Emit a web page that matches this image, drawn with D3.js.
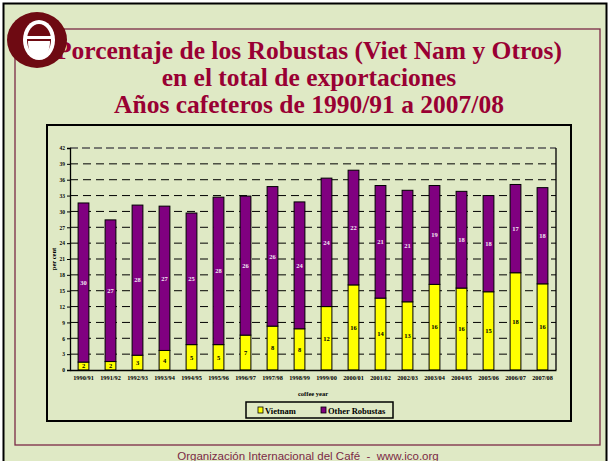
<!DOCTYPE html>
<html>
<head>
<meta charset="utf-8">
<script src="https://cdn.jsdelivr.net/npm/d3@7"></script>
<style>
  body { margin: 0; background: #fff; }
  svg { display: block; }
</style>
</head>
<body>
<script>
// coffee years on the x axis
var years = ["1990/91", "1991/92", "1992/93", "1993/94", "1994/95", "1995/96",
  "1996/97", "1997/98", "1998/99", "1999/00", "2000/01", "2001/02", "2002/03",
  "2003/04", "2004/05", "2005/06", "2006/07", "2007/08"];
// share of total exports, per cent
var vietnam = [1.5, 1.6, 2.8, 3.7, 4.8, 4.8, 6.6, 8.3, 7.8, 12.0, 16.1, 13.6, 12.9, 16.2, 15.5, 14.8, 18.4, 16.3];
var otherRobustas = [30.1, 26.8, 28.4, 27.3, 24.9, 27.9, 26.3, 26.4, 24.0, 24.3, 21.7, 21.3, 21.1, 18.7, 18.3, 18.2, 16.7, 18.2];
var yTicks = d3.range(0, 43, 3);
var seriesNames = ["Vietnam", "Other Robustas"];
var seriesColors = ["#ffff00", "#800080"];
var titleLines = ["Porcentaje de los Robustas (Viet Nam y Otros)",
  "en el total de exportaciones",
  "Años cafeteros de 1990/91 a 2007/08"];

var W = 610, H = 461;
var bg = "#dfe9c5", maroon = "#990033";
var serif = "Liberation Serif, Times New Roman, serif";
var svg = d3.select("body").append("svg").attr("width", W).attr("height", H);

// slide background and frames
svg.append("rect").attr("x", 3.5).attr("y", 3.5).attr("width", 603).attr("height", 470)
  .attr("fill", bg).attr("stroke", "#000").attr("stroke-width", 2);
svg.append("rect").attr("x", 15).attr("y", 29).attr("width", 585).attr("height", 416)
  .attr("fill", "none").attr("stroke", "#7b2a45").attr("stroke-width", 1.3);

// title
svg.append("g").selectAll("text").data(titleLines).join("text")
  .attr("x", 309).attr("y", function (d, i) { return 59 + i * 27; })
  .attr("text-anchor", "middle")
  .attr("font-family", serif)
  .attr("font-weight", "bold").attr("font-size", 25.5).attr("fill", maroon)
  .text(function (d) { return d; });

// ICO logo, drawn over the first letter
var logo = svg.append("g").attr("transform", "translate(37,40)");
logo.append("ellipse").attr("rx", 30).attr("ry", 28).attr("fill", "#6e0a12");
logo.append("ellipse").attr("cx", 2).attr("cy", 0).attr("rx", 16).attr("ry", 20).attr("fill", "#fff");
logo.append("ellipse").attr("cx", 2).attr("cy", 0).attr("rx", 12).attr("ry", 16).attr("fill", "#6e0a12");
logo.append("rect").attr("x", -13).attr("y", -4).attr("width", 30).attr("height", 3).attr("fill", "#fff");
logo.append("path").attr("d", "M-9,1 L13,1 Q13,17 2,17 Q-9,17 -9,1 Z").attr("fill", "#fff");

// chart box
svg.append("rect").attr("x", 47).attr("y", 125).attr("width", 524).attr("height", 296)
  .attr("fill", bg).attr("stroke", "#000").attr("stroke-width", 2);

var pL = 70, pR = 556, pT = 148, pB = 370;
var x = d3.scaleBand().domain(years).range([pL, pR]).paddingInner(0.6).paddingOuter(0.3);
var y = d3.scaleLinear().domain([0, 42]).range([pB, pT]);

// gridlines
svg.append("g").selectAll("line").data(yTicks.filter(function (t) { return t > 0 && t < 42; })).join("line")
  .attr("x1", pL).attr("x2", pR)
  .attr("y1", function (d) { return y(d); }).attr("y2", function (d) { return y(d); })
  .attr("stroke", "#000").attr("stroke-width", 1).attr("stroke-dasharray", "8,5");
svg.append("line").attr("x1", pL).attr("x2", pR).attr("y1", y(42)).attr("y2", y(42))
  .attr("stroke", "#555").attr("stroke-width", 1.5).attr("stroke-dasharray", "8,4");
svg.append("line").attr("x1", pR).attr("x2", pR).attr("y1", pT).attr("y2", pB)
  .attr("stroke", "#000").attr("stroke-width", 1.3);

// stacked bars
var rows = years.map(function (yr, i) { return { year: yr, v: vietnam[i], o: otherRobustas[i] }; });
var bars = svg.append("g");
bars.selectAll("rect.v").data(rows).join("rect").attr("class", "v")
  .attr("x", function (d) { return x(d.year); }).attr("width", x.bandwidth())
  .attr("y", function (d) { return y(d.v); })
  .attr("height", function (d) { return y(0) - y(d.v); })
  .attr("fill", seriesColors[0]).attr("stroke", "#000").attr("stroke-width", 1);
bars.selectAll("rect.o").data(rows).join("rect").attr("class", "o")
  .attr("x", function (d) { return x(d.year); }).attr("width", x.bandwidth())
  .attr("y", function (d) { return y(d.v + d.o); })
  .attr("height", function (d) { return y(d.v) - y(d.v + d.o); })
  .attr("fill", seriesColors[1]).attr("stroke", "#000").attr("stroke-width", 1);

// value labels
var lab = svg.append("g").attr("font-family", serif).attr("font-weight", "bold")
  .attr("font-size", 6.5).attr("text-anchor", "middle");
lab.selectAll("text.v").data(rows).join("text").attr("class", "v")
  .attr("x", function (d) { return x(d.year) + x.bandwidth() / 2; })
  .attr("y", function (d) { return y(d.v / 2) + 2.3; })
  .attr("fill", "#000").text(function (d) { return Math.round(d.v); });
lab.selectAll("text.o").data(rows).join("text").attr("class", "o")
  .attr("x", function (d) { return x(d.year) + x.bandwidth() / 2; })
  .attr("y", function (d) { return y(d.v + d.o / 2) + 2.3; })
  .attr("fill", "#f4e8f4").text(function (d) { return Math.round(d.o); });

// axes
var yAxis = svg.append("g").attr("transform", "translate(" + pL + ",0)")
  .call(d3.axisLeft(y).tickValues(yTicks).tickSize(3).tickPadding(2));
yAxis.select(".domain").attr("stroke", "#000").attr("stroke-width", 1.3);
yAxis.selectAll("text").attr("font-family", serif).attr("font-weight", "bold").attr("font-size", 5.5);

var xAxis = svg.append("g").attr("transform", "translate(0," + pB + ")")
  .call(d3.axisBottom(x).tickSize(0).tickPadding(6));
xAxis.select(".domain").attr("stroke", "#000").attr("stroke-width", 1.5);
xAxis.selectAll("text").attr("font-family", serif).attr("font-weight", "bold").attr("font-size", 6.3);

svg.append("text").attr("transform", "translate(56,259) rotate(-90)")
  .attr("text-anchor", "middle").attr("font-family", serif).attr("font-weight", "bold")
  .attr("font-size", 6.5).text("per cent");
svg.append("text").attr("x", (pL + pR) / 2).attr("y", 396)
  .attr("text-anchor", "middle").attr("font-family", serif).attr("font-weight", "bold")
  .attr("font-size", 6.5).text("coffee year");

// legend
var lg = svg.append("g");
lg.append("rect").attr("x", 246).attr("y", 402).attr("width", 147).attr("height", 16)
  .attr("fill", bg).attr("stroke", "#000").attr("stroke-width", 1.5);
var legX = [258, 321];
seriesNames.forEach(function (name, i) {
  lg.append("rect").attr("x", legX[i]).attr("y", 407).attr("width", 5).attr("height", 6)
    .attr("fill", seriesColors[i]).attr("stroke", "#000").attr("stroke-width", 0.8);
  lg.append("text").attr("x", legX[i] + 7).attr("y", 413.5)
    .attr("font-family", serif).attr("font-weight", "bold").attr("font-size", 8.5)
    .text(name);
});

// footer
svg.append("text").attr("x", 308).attr("y", 459.5).attr("text-anchor", "middle")
  .attr("font-family", "Liberation Sans, Arial, sans-serif").attr("font-size", 11.5)
  .style("white-space", "pre")
  .attr("fill", "#7b2a45").text("Organización Internacional del Café  -  www.ico.org");
</script>
</body>
</html>
